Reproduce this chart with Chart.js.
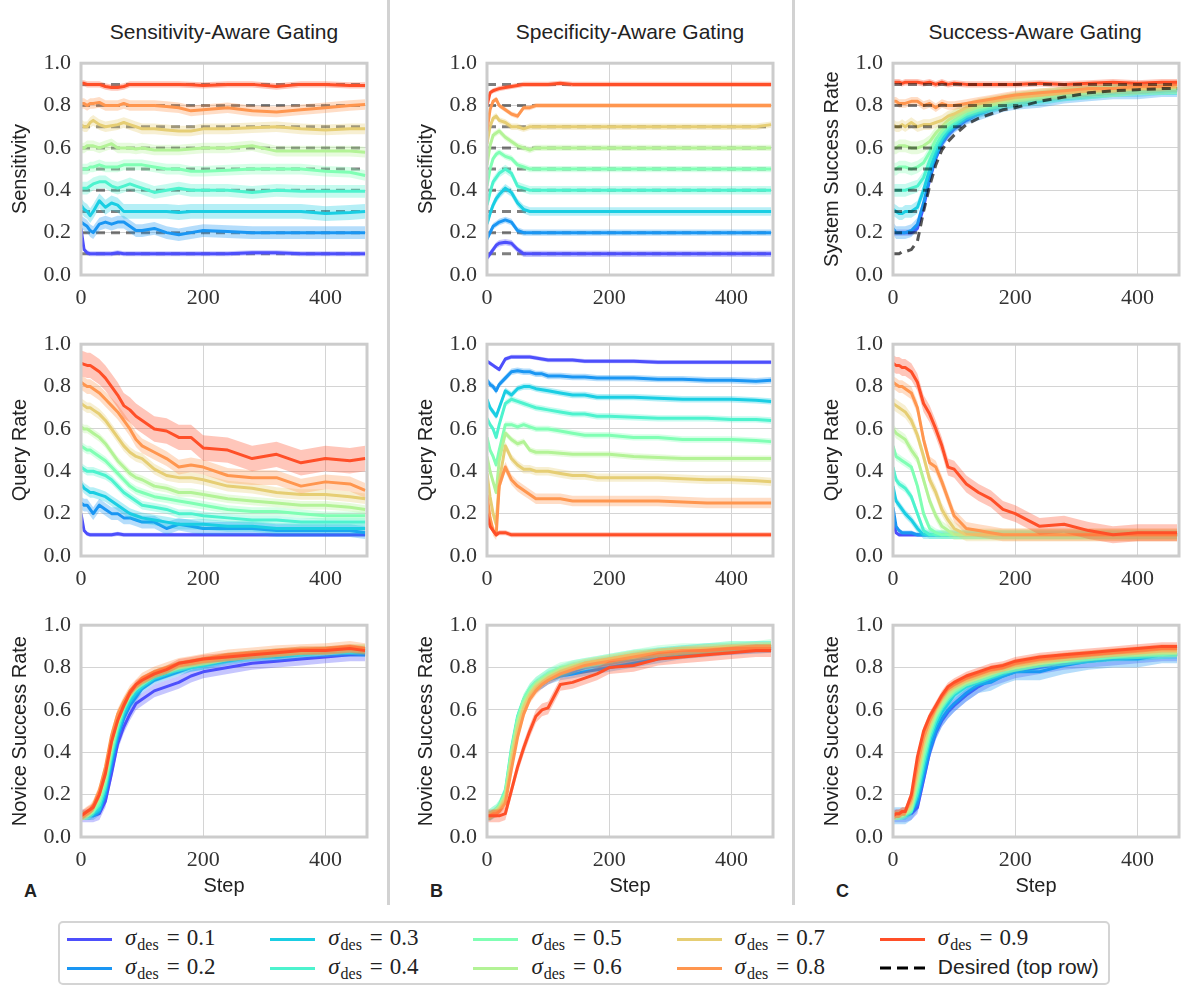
<!DOCTYPE html>
<html>
<head>
<meta charset="utf-8">
<script src="https://cdn.jsdelivr.net/npm/chart.js@4.4.0/dist/chart.umd.min.js"></script>
<style>
  body { margin: 0; background: #fff; width: 1187px; height: 987px; position: relative; overflow: hidden;
         font-family: "Liberation Sans", Arial, sans-serif; color: #222; }
  canvas { position: absolute; }
  .col-title { position: absolute; top: 20px; width: 320px; text-align: center; font-size: 21px; line-height: 24px; }
  .sep { position: absolute; top: 0; width: 3px; height: 905px; background: #d2d2d2; }
  .letter { position: absolute; top: 880px; font-weight: bold; font-size: 18px; line-height: 22px; }
  .legend-box { position: absolute; left: 58px; top: 921px; width: 1052px; height: 64px; box-sizing: border-box;
                border: 2px solid #d4d4d4; border-radius: 5px; }
  .leg-line { position: absolute; width: 45px; height: 3px; }
  .leg-text { position: absolute; font-family: "Liberation Serif", serif; font-size: 23px; line-height: 24px; white-space: nowrap; color: #222; }
  .leg-text i { font-style: italic; }
  .leg-text sub { font-size: 16px; vertical-align: -5px; line-height: 0; margin-left: 1px; }
  .leg-text .eq { margin: 0 7px 0 8px; }
  .leg-sans { font-family: "Liberation Sans", Arial, sans-serif; font-size: 21px; }
</style>
</head>
<body>
<div class="sep" style="left:387px"></div>
<div class="sep" style="left:792px"></div>
<div class="col-title" style="left:64px">Sensitivity-Aware Gating</div>
<div class="col-title" style="left:470px">Specificity-Aware Gating</div>
<div class="col-title" style="left:875px">Success-Aware Gating</div>
<div class="letter" style="left:24px">A</div>
<div class="letter" style="left:430px">B</div>
<div class="letter" style="left:836px">C</div>
<div class="legend-box"></div>
<script>
const STEPS = [0, 5, 10, 15, 20, 30, 40, 50, 60, 70, 80, 90, 100, 120, 140, 160, 180, 200, 240, 280, 320, 360, 400, 440, 465];
const SIGMAS = [0.1, 0.2, 0.3, 0.4, 0.5, 0.6, 0.7, 0.8, 0.9];
const COLORS = ['#4d4ffc', '#1a96f3', '#1acee3', '#4df3ce', '#80ffb4', '#b3f396', '#e6ce74', '#ff964f', '#ff4f28'];

// row 1
const sensitivityA = [
  [0.22,0.12,0.105,0.1,0.1, 0.1,0.1,0.1,0.105,0.1, 0.1,0.1,0.1,0.1,0.1, 0.1,0.1,0.1,0.1,0.105, 0.105,0.1,0.1,0.1,0.1],
  [0.25,0.24,0.23,0.21,0.2, 0.24,0.25,0.24,0.25,0.25, 0.23,0.21,0.21,0.22,0.2, 0.19,0.2,0.21,0.205,0.2, 0.2,0.2,0.2,0.2,0.2],
  [0.33,0.31,0.3,0.28,0.3, 0.35,0.32,0.34,0.33,0.3, 0.3,0.3,0.3,0.3,0.3, 0.295,0.3,0.3,0.3,0.3, 0.3,0.3,0.29,0.295,0.3],
  [0.41,0.41,0.41,0.42,0.43, 0.44,0.44,0.42,0.41,0.42, 0.43,0.42,0.41,0.39,0.4, 0.41,0.4,0.4,0.4,0.39, 0.4,0.395,0.395,0.395,0.395],
  [0.5,0.5,0.5,0.51,0.51, 0.52,0.51,0.51,0.51,0.52, 0.52,0.52,0.52,0.51,0.5, 0.5,0.49,0.49,0.495,0.5, 0.5,0.5,0.49,0.485,0.47],
  [0.6,0.6,0.61,0.61,0.61, 0.6,0.61,0.62,0.6,0.6, 0.6,0.595,0.6,0.59,0.59, 0.59,0.595,0.6,0.6,0.61, 0.585,0.585,0.585,0.585,0.58],
  [0.71,0.7,0.7,0.72,0.73, 0.71,0.7,0.705,0.71,0.72, 0.71,0.7,0.69,0.69,0.685, 0.68,0.68,0.69,0.69,0.695, 0.7,0.69,0.685,0.69,0.69],
  [0.81,0.81,0.8,0.81,0.81, 0.815,0.8,0.8,0.8,0.81, 0.8,0.8,0.8,0.8,0.795, 0.79,0.775,0.78,0.79,0.775, 0.77,0.78,0.79,0.8,0.805],
  [0.905,0.905,0.9,0.9,0.9, 0.9,0.89,0.885,0.885,0.89, 0.9,0.9,0.9,0.9,0.9, 0.9,0.898,0.895,0.9,0.9, 0.89,0.9,0.9,0.895,0.895]
];
const sensitivitySpreadA = [0.012, 0.03, 0.035, 0.03, 0.025, 0.025, 0.025, 0.025, 0.015];

const specificityB = [
  [0.08,0.1,0.12,0.14,0.15, 0.155,0.15,0.12,0.1,0.1, 0.1,0.1,0.1,0.1,0.1, 0.1,0.1,0.1,0.1,0.1, 0.1,0.1,0.1,0.1,0.1],
  [0.17,0.2,0.23,0.24,0.25, 0.26,0.25,0.21,0.2,0.2, 0.2,0.2,0.2,0.2,0.2, 0.2,0.2,0.2,0.2,0.2, 0.2,0.2,0.2,0.2,0.2],
  [0.24,0.29,0.33,0.36,0.38, 0.41,0.39,0.34,0.31,0.3, 0.3,0.3,0.3,0.3,0.3, 0.3,0.3,0.3,0.3,0.3, 0.3,0.3,0.3,0.3,0.3],
  [0.33,0.39,0.44,0.46,0.48, 0.5,0.48,0.42,0.41,0.4, 0.4,0.4,0.4,0.4,0.4, 0.4,0.4,0.4,0.4,0.4, 0.4,0.4,0.4,0.4,0.4],
  [0.42,0.5,0.55,0.57,0.58, 0.56,0.55,0.52,0.51,0.5, 0.5,0.5,0.5,0.5,0.5, 0.5,0.5,0.5,0.5,0.5, 0.5,0.5,0.5,0.5,0.5],
  [0.52,0.61,0.66,0.67,0.68, 0.65,0.63,0.61,0.6,0.59, 0.6,0.6,0.6,0.6,0.6, 0.6,0.6,0.6,0.6,0.6, 0.6,0.6,0.6,0.6,0.6],
  [0.62,0.7,0.74,0.75,0.73, 0.72,0.7,0.7,0.69,0.7, 0.7,0.7,0.7,0.7,0.7, 0.7,0.7,0.7,0.7,0.7, 0.7,0.7,0.7,0.7,0.71],
  [0.68,0.78,0.82,0.83,0.8, 0.78,0.76,0.75,0.79,0.79, 0.8,0.8,0.8,0.8,0.8, 0.8,0.8,0.8,0.8,0.8, 0.8,0.8,0.8,0.8,0.8],
  [0.8,0.86,0.87,0.875,0.88, 0.885,0.89,0.895,0.9,0.9, 0.9,0.9,0.9,0.905,0.9, 0.9,0.9,0.9,0.9,0.9, 0.9,0.9,0.9,0.9,0.9]
];
const specificitySpreadB = [0.015, 0.015, 0.02, 0.02, 0.015, 0.015, 0.015, 0.012, 0.012];

const systemSuccessC = [
  [0.2,0.2,0.2,0.2,0.2, 0.2,0.22,0.32,0.45,0.55, 0.62,0.66,0.69,0.73,0.76, 0.78,0.8,0.81,0.83,0.84, 0.85,0.86,0.87,0.87,0.875],
  [0.22,0.2,0.2,0.2,0.2, 0.21,0.24,0.34,0.46,0.56, 0.63,0.67,0.7,0.74,0.76, 0.78,0.8,0.81,0.82,0.84, 0.85,0.86,0.86,0.87,0.87],
  [0.31,0.3,0.29,0.29,0.3, 0.3,0.32,0.4,0.5,0.58, 0.64,0.68,0.71,0.75,0.77, 0.79,0.81,0.82,0.83,0.85, 0.86,0.87,0.87,0.88,0.88],
  [0.4,0.4,0.4,0.4,0.4, 0.41,0.42,0.46,0.54,0.61, 0.66,0.7,0.72,0.76,0.78, 0.8,0.81,0.82,0.84,0.85, 0.86,0.87,0.88,0.88,0.88],
  [0.5,0.5,0.51,0.51,0.51, 0.5,0.51,0.53,0.58,0.64, 0.68,0.71,0.73,0.77,0.79, 0.8,0.82,0.83,0.84,0.86, 0.86,0.87,0.88,0.88,0.885],
  [0.6,0.6,0.61,0.61,0.61, 0.6,0.6,0.61,0.63,0.67, 0.7,0.73,0.75,0.78,0.8, 0.81,0.82,0.83,0.85,0.86, 0.87,0.87,0.88,0.885,0.885],
  [0.71,0.7,0.7,0.71,0.7, 0.72,0.7,0.71,0.71,0.72, 0.73,0.75,0.76,0.79,0.81, 0.82,0.83,0.84,0.85,0.86, 0.87,0.88,0.88,0.89,0.89],
  [0.82,0.82,0.81,0.81,0.81, 0.82,0.82,0.8,0.81,0.79, 0.81,0.8,0.8,0.81,0.82, 0.83,0.84,0.85,0.86,0.87, 0.88,0.88,0.89,0.89,0.9],
  [0.91,0.91,0.91,0.905,0.91, 0.91,0.91,0.905,0.91,0.9, 0.91,0.9,0.905,0.9,0.9, 0.9,0.9,0.9,0.905,0.9, 0.905,0.91,0.905,0.91,0.91]
];
const systemSpreadC = [0.015, 0.03, 0.03, 0.03, 0.03, 0.03, 0.025, 0.02, 0.015];
// desired system success in the success-aware column
const desiredCurveC = [0.1,0.1,0.1,0.11,0.11, 0.12,0.16,0.3,0.42,0.52, 0.59,0.63,0.66,0.71,0.74, 0.76,0.78,0.79,0.82,0.84, 0.86,0.87,0.875,0.88,0.88];
const desiredMeetC = [43, 49, 57, 68, 82, 112, 205, 468]; // where levels 0.2..0.9 join the curve

// row 2
const queryA = [
  [0.2,0.12,0.105,0.1,0.1, 0.1,0.1,0.1,0.105,0.1, 0.1,0.1,0.1,0.1,0.1, 0.1,0.1,0.1,0.1,0.1, 0.1,0.1,0.1,0.1,0.1],
  [0.25,0.24,0.24,0.22,0.2, 0.24,0.22,0.2,0.2,0.18, 0.18,0.17,0.16,0.16,0.13, 0.15,0.14,0.13,0.13,0.13, 0.12,0.12,0.12,0.12,0.11],
  [0.34,0.32,0.31,0.3,0.3, 0.29,0.28,0.26,0.24,0.22, 0.2,0.19,0.18,0.17,0.16, 0.15,0.15,0.15,0.14,0.14, 0.13,0.13,0.13,0.13,0.13],
  [0.42,0.41,0.4,0.4,0.4, 0.39,0.38,0.36,0.33,0.3, 0.28,0.26,0.24,0.23,0.22, 0.2,0.2,0.19,0.18,0.17, 0.17,0.16,0.16,0.16,0.16],
  [0.52,0.51,0.5,0.5,0.49, 0.47,0.45,0.42,0.39,0.36, 0.33,0.31,0.3,0.28,0.27, 0.26,0.25,0.24,0.22,0.21, 0.21,0.2,0.19,0.19,0.19],
  [0.61,0.6,0.6,0.59,0.58, 0.56,0.53,0.49,0.45,0.42, 0.39,0.37,0.36,0.33,0.32, 0.3,0.3,0.29,0.27,0.26, 0.25,0.24,0.24,0.23,0.22],
  [0.72,0.71,0.7,0.7,0.69, 0.67,0.64,0.6,0.56,0.52, 0.49,0.47,0.46,0.41,0.38, 0.37,0.37,0.36,0.33,0.32, 0.3,0.29,0.29,0.28,0.27],
  [0.82,0.81,0.8,0.8,0.79, 0.77,0.74,0.71,0.68,0.64, 0.6,0.55,0.52,0.49,0.46, 0.42,0.43,0.42,0.38,0.37, 0.37,0.33,0.35,0.34,0.31],
  [0.91,0.905,0.9,0.9,0.89, 0.87,0.84,0.8,0.76,0.71, 0.69,0.66,0.64,0.6,0.59, 0.56,0.56,0.51,0.5,0.46, 0.48,0.44,0.46,0.45,0.46]
];
const querySpreadA = [0.01, 0.03, 0.025, 0.02, 0.02, 0.02, 0.025, 0.035, 0.06];

const queryB = [
  [0.92,0.91,0.9,0.89,0.88, 0.93,0.94,0.94,0.94,0.94, 0.935,0.93,0.925,0.925,0.925, 0.92,0.92,0.92,0.92,0.915, 0.915,0.915,0.915,0.915,0.915],
  [0.83,0.81,0.8,0.78,0.81, 0.84,0.87,0.875,0.87,0.87, 0.86,0.86,0.85,0.85,0.845, 0.845,0.84,0.84,0.84,0.835, 0.835,0.83,0.83,0.825,0.83],
  [0.74,0.7,0.68,0.66,0.7, 0.78,0.76,0.79,0.8,0.8, 0.79,0.785,0.78,0.77,0.76, 0.76,0.75,0.75,0.75,0.745, 0.74,0.74,0.74,0.735,0.73],
  [0.65,0.62,0.6,0.56,0.62, 0.72,0.74,0.73,0.72,0.71, 0.7,0.695,0.69,0.68,0.67, 0.67,0.66,0.66,0.655,0.65, 0.65,0.65,0.645,0.645,0.64],
  [0.56,0.5,0.47,0.43,0.5, 0.62,0.62,0.61,0.62,0.61, 0.6,0.6,0.6,0.59,0.58, 0.57,0.57,0.57,0.56,0.56, 0.55,0.55,0.55,0.545,0.54],
  [0.47,0.4,0.35,0.3,0.45, 0.58,0.55,0.53,0.54,0.5, 0.49,0.49,0.49,0.485,0.48, 0.48,0.48,0.48,0.47,0.465, 0.46,0.46,0.46,0.46,0.46],
  [0.39,0.28,0.2,0.15,0.35, 0.52,0.46,0.43,0.41,0.41, 0.4,0.4,0.4,0.39,0.38, 0.38,0.37,0.37,0.37,0.37, 0.365,0.36,0.36,0.355,0.35],
  [0.29,0.18,0.12,0.1,0.33, 0.42,0.36,0.33,0.31,0.29, 0.27,0.27,0.27,0.27,0.26, 0.26,0.26,0.26,0.26,0.26, 0.255,0.25,0.25,0.25,0.25],
  [0.2,0.14,0.12,0.1,0.11, 0.11,0.1,0.1,0.1,0.1, 0.1,0.1,0.1,0.1,0.1, 0.1,0.1,0.1,0.1,0.1, 0.1,0.1,0.1,0.1,0.1]
];
const querySpreadB = [0.01, 0.015, 0.015, 0.015, 0.015, 0.015, 0.02, 0.025, 0.012];

const queryC = [
  [0.17,0.11,0.1,0.1,0.1, 0.1,0.1,0.1,0.1,0.1, 0.1,0.1,0.1,0.1,0.1, 0.1,0.1,0.1,0.1,0.1, 0.1,0.1,0.1,0.1,0.1],
  [0.23,0.14,0.12,0.11,0.11, 0.11,0.1,0.1,0.1,0.1, 0.1,0.1,0.1,0.1,0.1, 0.1,0.1,0.1,0.1,0.1, 0.1,0.1,0.1,0.1,0.1],
  [0.33,0.26,0.24,0.22,0.2, 0.17,0.13,0.1,0.1,0.1, 0.1,0.1,0.1,0.1,0.1, 0.1,0.1,0.1,0.1,0.1, 0.1,0.1,0.1,0.1,0.1],
  [0.42,0.36,0.34,0.33,0.32, 0.28,0.2,0.12,0.1,0.1, 0.1,0.1,0.1,0.1,0.1, 0.1,0.1,0.1,0.1,0.1, 0.1,0.1,0.1,0.1,0.1],
  [0.52,0.47,0.46,0.45,0.44, 0.42,0.33,0.2,0.13,0.11, 0.1,0.1,0.1,0.1,0.1, 0.1,0.1,0.1,0.1,0.1, 0.1,0.1,0.1,0.1,0.1],
  [0.6,0.58,0.57,0.56,0.55, 0.5,0.46,0.36,0.26,0.19, 0.14,0.12,0.1,0.1,0.1, 0.1,0.1,0.1,0.1,0.1, 0.1,0.1,0.1,0.1,0.1],
  [0.72,0.71,0.7,0.69,0.68, 0.64,0.57,0.47,0.36,0.3, 0.22,0.17,0.13,0.1,0.1, 0.1,0.1,0.1,0.1,0.1, 0.1,0.1,0.1,0.1,0.1],
  [0.82,0.81,0.8,0.8,0.79, 0.77,0.7,0.55,0.44,0.42, 0.35,0.27,0.19,0.13,0.12, 0.11,0.1,0.1,0.1,0.1, 0.1,0.1,0.1,0.1,0.1],
  [0.91,0.9,0.9,0.89,0.89, 0.87,0.82,0.72,0.67,0.6, 0.52,0.42,0.41,0.34,0.3, 0.27,0.22,0.2,0.14,0.15, 0.12,0.1,0.11,0.11,0.11]
];
const querySpreadC = [0.01, 0.01, 0.02, 0.02, 0.02, 0.025, 0.03, 0.03, 0.04];

// row 3
const noviceA = [
  [0.1,0.1,0.1,0.1,0.1, 0.11,0.17,0.3,0.44,0.52, 0.58,0.63,0.65,0.69,0.71, 0.73,0.76,0.78,0.8,0.82, 0.83,0.84,0.85,0.86,0.86],
  [0.1,0.1,0.1,0.1,0.1, 0.12,0.2,0.34,0.47,0.56, 0.62,0.66,0.7,0.74,0.76, 0.78,0.8,0.81,0.83,0.85, 0.85,0.86,0.87,0.87,0.87],
  [0.1,0.1,0.1,0.1,0.11, 0.13,0.22,0.37,0.49,0.58, 0.64,0.68,0.71,0.75,0.77, 0.79,0.8,0.81,0.84,0.85, 0.86,0.87,0.87,0.88,0.87],
  [0.1,0.1,0.1,0.11,0.12, 0.15,0.24,0.39,0.51,0.6, 0.66,0.7,0.72,0.76,0.78, 0.8,0.81,0.82,0.84,0.86, 0.86,0.87,0.88,0.88,0.88],
  [0.1,0.1,0.1,0.11,0.12, 0.17,0.26,0.41,0.53,0.61, 0.67,0.71,0.73,0.77,0.79, 0.8,0.82,0.83,0.85,0.86, 0.87,0.875,0.88,0.885,0.885],
  [0.1,0.1,0.11,0.12,0.13, 0.19,0.28,0.43,0.54,0.62, 0.67,0.71,0.73,0.77,0.79, 0.81,0.82,0.83,0.85,0.86, 0.87,0.88,0.88,0.89,0.89],
  [0.1,0.1,0.11,0.12,0.14, 0.2,0.3,0.45,0.56,0.63, 0.68,0.71,0.74,0.77,0.79, 0.81,0.82,0.83,0.85,0.86, 0.87,0.88,0.88,0.89,0.89],
  [0.1,0.11,0.12,0.13,0.15, 0.22,0.33,0.48,0.58,0.64, 0.69,0.72,0.75,0.78,0.8, 0.82,0.83,0.84,0.86,0.87, 0.88,0.885,0.89,0.9,0.89],
  [0.1,0.11,0.12,0.13,0.14, 0.2,0.3,0.45,0.55,0.62, 0.68,0.72,0.74,0.77,0.79, 0.82,0.83,0.84,0.85,0.86, 0.87,0.88,0.88,0.89,0.88]
];
const noviceSpreadA = [0.03, 0.02, 0.02, 0.02, 0.02, 0.02, 0.02, 0.025, 0.02];

const noviceB = [
  [0.1,0.1,0.11,0.12,0.13, 0.18,0.37,0.53,0.62,0.67, 0.7,0.72,0.74,0.77,0.78, 0.8,0.81,0.82,0.84,0.86, 0.87,0.88,0.88,0.89,0.89],
  [0.1,0.1,0.11,0.12,0.13, 0.19,0.38,0.54,0.63,0.68, 0.71,0.72,0.74,0.76,0.77, 0.78,0.79,0.8,0.82,0.84, 0.86,0.87,0.88,0.885,0.89],
  [0.1,0.1,0.11,0.12,0.14, 0.2,0.4,0.56,0.64,0.69, 0.72,0.74,0.76,0.78,0.8, 0.81,0.82,0.83,0.85,0.87, 0.88,0.89,0.89,0.9,0.9],
  [0.1,0.11,0.12,0.13,0.15, 0.22,0.42,0.57,0.65,0.7, 0.73,0.75,0.77,0.79,0.81, 0.82,0.83,0.84,0.86,0.87, 0.88,0.89,0.9,0.9,0.9],
  [0.1,0.11,0.12,0.13,0.15, 0.21,0.41,0.56,0.65,0.7, 0.73,0.75,0.77,0.8,0.81, 0.82,0.83,0.84,0.86,0.88, 0.89,0.89,0.9,0.9,0.91],
  [0.1,0.1,0.11,0.12,0.14, 0.2,0.39,0.54,0.63,0.68, 0.72,0.74,0.76,0.79,0.81, 0.82,0.83,0.84,0.86,0.87, 0.88,0.89,0.9,0.9,0.9],
  [0.1,0.1,0.11,0.12,0.13, 0.18,0.36,0.51,0.61,0.67, 0.71,0.73,0.75,0.78,0.8, 0.82,0.83,0.84,0.86,0.87, 0.88,0.89,0.89,0.9,0.9],
  [0.1,0.1,0.11,0.11,0.12, 0.16,0.32,0.47,0.58,0.65, 0.69,0.72,0.74,0.77,0.79, 0.81,0.82,0.83,0.85,0.87, 0.88,0.88,0.89,0.89,0.89],
  [0.1,0.1,0.1,0.1,0.1, 0.11,0.22,0.33,0.42,0.5, 0.57,0.6,0.61,0.72,0.73, 0.75,0.77,0.8,0.81,0.84, 0.85,0.86,0.87,0.88,0.88]
];
const noviceSpreadB = [0.02, 0.02, 0.025, 0.025, 0.025, 0.02, 0.02, 0.02, 0.03];

const noviceC = [
  [0.1,0.1,0.1,0.1,0.1, 0.11,0.14,0.27,0.4,0.49, 0.55,0.59,0.62,0.67,0.71, 0.74,0.76,0.78,0.8,0.82, 0.83,0.84,0.85,0.86,0.86],
  [0.1,0.1,0.1,0.1,0.1, 0.12,0.16,0.29,0.41,0.5, 0.56,0.6,0.63,0.68,0.72, 0.73,0.76,0.78,0.78,0.81, 0.83,0.84,0.84,0.86,0.86],
  [0.1,0.1,0.1,0.1,0.1, 0.12,0.19,0.32,0.45,0.53, 0.59,0.63,0.67,0.71,0.73, 0.75,0.77,0.79,0.81,0.83, 0.84,0.85,0.85,0.86,0.86],
  [0.1,0.1,0.1,0.1,0.11, 0.12,0.21,0.35,0.47,0.55, 0.61,0.65,0.68,0.72,0.74, 0.76,0.78,0.8,0.82,0.83, 0.84,0.85,0.86,0.86,0.87],
  [0.1,0.1,0.1,0.1,0.11, 0.13,0.24,0.38,0.49,0.57, 0.62,0.66,0.69,0.73,0.75, 0.77,0.79,0.8,0.82,0.83, 0.85,0.86,0.86,0.87,0.87],
  [0.1,0.1,0.1,0.11,0.11, 0.14,0.27,0.41,0.51,0.58, 0.63,0.67,0.7,0.73,0.75, 0.77,0.79,0.8,0.82,0.84, 0.85,0.86,0.87,0.87,0.87],
  [0.1,0.1,0.11,0.11,0.12, 0.16,0.3,0.44,0.53,0.6, 0.65,0.69,0.71,0.74,0.76, 0.78,0.8,0.81,0.83,0.85, 0.86,0.87,0.87,0.88,0.88],
  [0.1,0.11,0.11,0.12,0.12, 0.18,0.34,0.47,0.55,0.61, 0.66,0.7,0.72,0.75,0.77, 0.79,0.8,0.82,0.84,0.85, 0.86,0.87,0.88,0.89,0.89],
  [0.1,0.11,0.11,0.12,0.12, 0.2,0.38,0.5,0.57,0.62, 0.67,0.71,0.73,0.76,0.78, 0.8,0.81,0.83,0.85,0.86, 0.87,0.88,0.89,0.9,0.9]
];
const noviceSpreadC = [0.03, 0.04, 0.02, 0.02, 0.02, 0.02, 0.02, 0.02, 0.02];

const X_MAX = 468;
const PLOT_W = 286, PLOT_H = 221, Y_AXIS_W = 80, PAD_TOP = 14, PAD_RIGHT = 8;
const COL_LEFT = [81, 487, 893];
const ROW_TOP = [54, 335, 616];
const SERIF = '"Liberation Serif", "Times New Roman", serif';
const SANS = '"Liberation Sans", Arial, sans-serif';
const GRID = '#d4d4d4';
const DESIRED_GREY = 'rgba(0, 0, 0, 0.5)';

const framePlugin = {
  id: 'frame',
  afterDatasetsDraw(chart) {
    const { ctx, chartArea: a } = chart;
    ctx.save();
    ctx.strokeStyle = '#cccccc';
    ctx.lineWidth = 3;
    ctx.strokeRect(a.left, a.top, a.right - a.left, a.bottom - a.top);
    ctx.restore();
  }
};

function rgba(hex, alpha) {
  const n = parseInt(hex.slice(1), 16);
  return `rgba(${n >> 16}, ${(n >> 8) & 255}, ${n & 255}, ${alpha})`;
}

function points(values, shift) {
  return values.map((v, i) => ({ x: STEPS[i], y: v + shift }));
}

function seriesDatasets(series, spread) {
  const out = [];
  series.forEach((values, i) => {
    const order = 100 - 2 * i;
    out.push({ data: points(values, -spread[i]), borderColor: 'rgba(0,0,0,0)', borderWidth: 0, pointRadius: 0, fill: false, order });
    out.push({ data: points(values, spread[i]), borderColor: 'rgba(0,0,0,0)', borderWidth: 0, pointRadius: 0,
               fill: '-1', backgroundColor: rgba(COLORS[i], 0.32), order });
    out.push({ data: points(values, 0), borderColor: COLORS[i], borderWidth: 3, pointRadius: 0, fill: false,
               borderJoinStyle: 'round', order: order - 1 });
  });
  return out;
}

function dashed(data, color, order) {
  return { data, borderColor: color, borderWidth: 3, borderDash: [9, 6], pointRadius: 0, fill: false, order };
}

function flatDesired() {
  return SIGMAS.map((level) => dashed([{ x: 0, y: level }, { x: X_MAX, y: level }], DESIRED_GREY, 300));
}

function successDesired() {
  const out = SIGMAS.slice(1).map((level, i) => dashed([{ x: 0, y: level }, { x: desiredMeetC[i], y: level }], DESIRED_GREY, 0));
  out.push(dashed(points(desiredCurveC, 0), 'rgba(20, 20, 20, 0.72)', 0));
  return out;
}

function buildPanel(col, row, series, spread, yTitle, desired) {
  const bottomRow = row === 2;
  const xh = bottomRow ? 62 : 34;
  const canvas = document.createElement('canvas');
  canvas.width = Y_AXIS_W + PLOT_W + PAD_RIGHT;
  canvas.height = PAD_TOP + PLOT_H + xh;
  canvas.style.left = (COL_LEFT[col] - Y_AXIS_W) + 'px';
  canvas.style.top = (ROW_TOP[row] - PAD_TOP) + 'px';
  document.body.appendChild(canvas);

  const datasets = seriesDatasets(series, spread).concat(desired);
  return new Chart(canvas, {
    type: 'line',
    data: { datasets },
    plugins: [framePlugin],
    options: {
      responsive: false,
      animation: false,
      events: [],
      layout: { padding: { top: PAD_TOP, right: PAD_RIGHT, left: 0, bottom: 0 } },
      plugins: { legend: { display: false }, tooltip: { enabled: false } },
      scales: {
        x: {
          type: 'linear', min: 0, max: X_MAX,
          grid: { color: GRID, lineWidth: 1, drawTicks: false },
          border: { display: false },
          ticks: { stepSize: 200, includeBounds: false, padding: 10, color: '#333', font: { family: SERIF, size: 22 } },
          title: { display: bottomRow, text: 'Step', color: '#222', font: { family: SANS, size: 20 }, padding: { top: 0, bottom: 1 } },
          afterFit: (scale) => { scale.height = xh; }
        },
        y: {
          min: 0, max: 1,
          grid: { color: GRID, lineWidth: 1, drawTicks: false },
          border: { display: false },
          ticks: { stepSize: 0.2, padding: 10, color: '#333', font: { family: SERIF, size: 22 },
                   callback: (v) => v.toFixed(1) },
          title: { display: true, text: yTitle, color: '#222', font: { family: SANS, size: 20 }, padding: { top: 7, bottom: 0 } },
          afterFit: (scale) => { scale.width = Y_AXIS_W; }
        }
      }
    }
  });
}

buildPanel(0, 0, sensitivityA, sensitivitySpreadA, 'Sensitivity', flatDesired());
buildPanel(1, 0, specificityB, specificitySpreadB, 'Specificity', flatDesired());
buildPanel(2, 0, systemSuccessC, systemSpreadC, 'System Success Rate', successDesired());
buildPanel(0, 1, queryA, querySpreadA, 'Query Rate', []);
buildPanel(1, 1, queryB, querySpreadB, 'Query Rate', []);
buildPanel(2, 1, queryC, querySpreadC, 'Query Rate', []);
buildPanel(0, 2, noviceA, noviceSpreadA, 'Novice Success Rate', []);
buildPanel(1, 2, noviceB, noviceSpreadB, 'Novice Success Rate', []);
buildPanel(2, 2, noviceC, noviceSpreadC, 'Novice Success Rate', []);

// shared legend, filled column by column
const LEGEND_ROWS = [939, 968];
const LEGEND_LEFT = 67, LEGEND_COL_W = 203.2;
function legendItem(index, color, html, dashedSample) {
  const col = Math.floor(index / 2), row = index % 2;
  const left = LEGEND_LEFT + col * LEGEND_COL_W;
  const y = LEGEND_ROWS[row];
  if (dashedSample) {
    const svg = document.createElementNS('http://www.w3.org/2000/svg', 'svg');
    svg.setAttribute('width', '45'); svg.setAttribute('height', '4');
    svg.style.position = 'absolute'; svg.style.left = left + 'px'; svg.style.top = (y - 2) + 'px';
    svg.innerHTML = '<line x1="0" y1="2" x2="45" y2="2" stroke="#000" stroke-width="3" stroke-dasharray="11 6"/>';
    document.body.appendChild(svg);
  } else {
    const line = document.createElement('div');
    line.className = 'leg-line';
    line.style.left = left + 'px'; line.style.top = (y - 1.5) + 'px'; line.style.background = color;
    document.body.appendChild(line);
  }
  const text = document.createElement('div');
  text.className = 'leg-text';
  text.style.left = (left + 58) + 'px'; text.style.top = (y - 13) + 'px';
  text.innerHTML = html;
  document.body.appendChild(text);
}
SIGMAS.forEach((s, i) => legendItem(i, COLORS[i], '<i>σ</i><sub>des</sub><span class="eq">=</span>' + s.toFixed(1), false));
legendItem(9, '#000', '<span class="leg-sans">Desired (top row)</span>', true);
</script>
</body>
</html>
